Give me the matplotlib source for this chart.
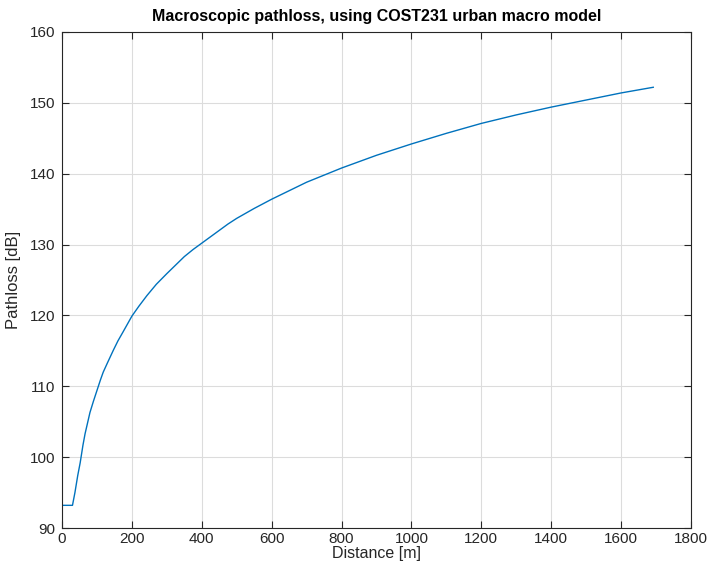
import numpy as np
import matplotlib.pyplot as plt

plt.rcParams['font.family'] = ['Liberation Sans', 'DejaVu Sans']

# values
distance = [0, 30, 37, 45, 52, 60, 66, 73, 80, 90, 100, 110, 118, 130, 147,
            160, 175, 200, 220, 243, 270, 300, 325, 350, 375, 400, 425, 450,
            475, 500, 550, 600, 650, 700, 750, 800, 900, 1000, 1100, 1200,
            1300, 1400, 1500, 1600, 1692]
pathloss = [93.2, 93.2, 95.0, 97.4, 99.2, 101.7, 103.3, 104.8, 106.3, 107.9,
            109.4, 110.9, 112.0, 113.3, 115.1, 116.4, 117.7, 119.9, 121.3,
            122.8, 124.4, 125.9, 127.1, 128.3, 129.3, 130.2, 131.1, 132.0,
            132.9, 133.7, 135.1, 136.4, 137.6, 138.8, 139.8, 140.8, 142.6,
            144.2, 145.7, 147.1, 148.3, 149.4, 150.4, 151.4, 152.2]

fig = plt.figure(figsize=(7.07, 5.61), dpi=100)
ax = fig.add_axes([62 / 707, 1 - 528 / 561, 629 / 707, 496 / 561])

ax.plot(distance, pathloss, color='#0072BD', linewidth=1.0)

ax.set_xlim(0, 1800)
ax.set_ylim(90, 160)
ax.set_xticks(np.arange(0, 1801, 200))
ax.set_yticks(np.arange(90, 161, 10))
ax.grid(True, color='#dcdcdc', linewidth=0.8)
ax.set_axisbelow(True)

ax.tick_params(direction='in', top=True, right=True, length=5, width=0.8,
               labelsize=11, colors='#262626', pad=5)
ax.tick_params(axis='x', pad=3)
for s in ax.spines.values():
    s.set_linewidth(0.8)
    s.set_color('#262626')

ax.set_title('Macroscopic pathloss, using COST231 urban macro model',
             fontsize=11.5, fontweight='bold', pad=8)
ax.set_xlabel('Distance [m]', fontsize=11.5, labelpad=0, color='#262626')
ax.set_ylabel('Pathloss [dB]', fontsize=12, labelpad=6, color='#262626')

fig.savefig('out.png', dpi=100)
